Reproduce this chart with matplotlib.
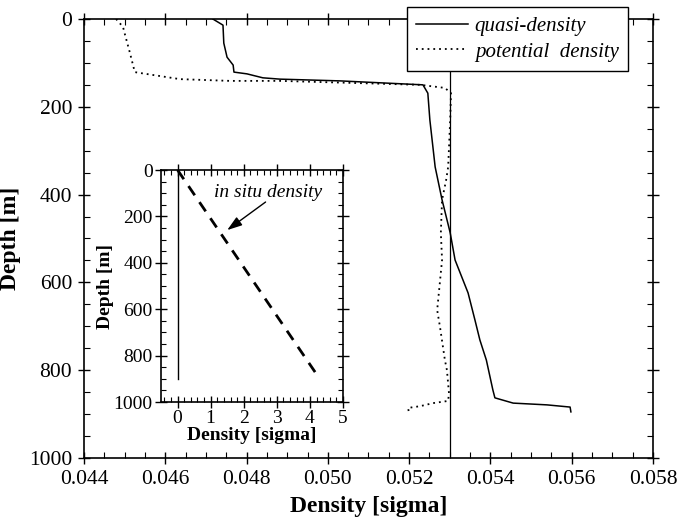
import matplotlib.pyplot as plt
from matplotlib.ticker import MultipleLocator, FormatStrFormatter

plt.rcParams['font.family'] = ['Liberation Serif', 'DejaVu Serif']

# quasi-density profile (solid)
quasi_depth = [0, 14, 55, 87, 105, 121, 125, 134, 137, 141, 150, 169, 230,
               337, 412, 487, 549, 624, 686, 731, 777, 845, 863, 875, 879,
               884, 895]
quasi_rho = [0.04717, 0.04742, 0.04744, 0.04752, 0.04767, 0.04769, 0.04801,
             0.04840, 0.04882, 0.05030, 0.05234, 0.05246, 0.05251, 0.05264,
             0.05281, 0.05301, 0.05313, 0.05345, 0.05362, 0.05374, 0.05390,
             0.05406, 0.05411, 0.05456, 0.05539, 0.05596, 0.05598]

# potential density profile (dotted)
pot_depth = [0, 18, 36, 77, 121, 123, 137, 141, 141, 150, 157, 169, 230,
             337, 367, 412, 487, 549, 663, 702, 777, 800, 852, 870, 875,
             882, 886, 897]
pot_rho = [0.04479, 0.04496, 0.04501, 0.04513, 0.04525, 0.04538, 0.04636,
           0.04759, 0.04882, 0.05227, 0.05288, 0.05303, 0.05301, 0.05296,
           0.05291, 0.05281, 0.05278, 0.05281, 0.05269, 0.05276, 0.05288,
           0.05293, 0.05298, 0.05296, 0.05259, 0.05227, 0.05197, 0.05200]

# reference vertical line
ref_rho = [0.0530, 0.0530]
ref_depth = [0, 1000]

# inset: in situ density vs quasi-density
inset_quasi_rho = [0, 0]
inset_quasi_depth = [0, 900]
insitu_rho = [0, 4.2]
insitu_depth = [0, 880]

fig = plt.figure(figsize=(6.8, 5.26), dpi=100)
ax = fig.add_axes([0.1235, 0.1293, 0.8368, 0.8346])

ax.plot(quasi_rho, quasi_depth, color='black', lw=1.1, label='quasi-density')
ax.plot(pot_rho, pot_depth, color='black', lw=1.3, dashes=(1, 2.2),
        label='potential  density')
ax.plot(ref_rho, ref_depth, color='black', lw=0.9)

ax.set_xlim(0.044, 0.058)
ax.set_ylim(1000, 0)
ax.xaxis.set_major_locator(MultipleLocator(0.002))
ax.xaxis.set_minor_locator(MultipleLocator(0.0005))
ax.xaxis.set_major_formatter(FormatStrFormatter('%.3f'))
ax.yaxis.set_major_locator(MultipleLocator(200))
ax.yaxis.set_minor_locator(MultipleLocator(50))
ax.tick_params(which='major', direction='inout', length=9, width=1,
               top=True, right=True, labelsize=15.5, pad=4)
ax.tick_params(which='minor', direction='in', length=4, width=0.8,
               top=True, right=True)
for s in ax.spines.values():
    s.set_linewidth(1.2)
ax.set_xlabel('Density [sigma]', fontsize=17, fontweight='bold', labelpad=5)
ax.set_ylabel('Depth [m]', fontsize=17, fontweight='bold', labelpad=6)

leg = ax.legend(loc='upper right', bbox_to_anchor=(0.9235, 0.9867),
                bbox_transform=fig.transFigure, fancybox=False,
                framealpha=1, edgecolor='black', handlelength=2.5,
                prop={'style': 'italic', 'size': 15}, borderpad=0.45,
                labelspacing=0.3, handletextpad=0.3, borderaxespad=0)
leg.get_frame().set_linewidth(1.0)
leg.set_zorder(5)

# inset
axi = fig.add_axes([0.2368, 0.2357, 0.2676, 0.4411])
axi.plot(inset_quasi_rho, inset_quasi_depth, color='black', lw=1.0)
axi.plot(insitu_rho, insitu_depth, color='black', lw=2.0, dashes=(4, 3))
axi.set_xlim(-0.5, 5)
axi.set_ylim(1000, 0)
axi.xaxis.set_major_locator(MultipleLocator(1))
axi.xaxis.set_minor_locator(MultipleLocator(0.2))
axi.yaxis.set_major_locator(MultipleLocator(200))
axi.yaxis.set_minor_locator(MultipleLocator(50))
axi.tick_params(which='major', direction='inout', length=8, width=1,
                top=True, right=True, labelsize=14, pad=2)
axi.tick_params(which='minor', direction='in', length=3.5, width=0.8,
                top=True, right=True)
for s in axi.spines.values():
    s.set_linewidth(1.2)
axi.set_xlabel('Density [sigma]', fontsize=14, fontweight='bold', labelpad=0)
axi.set_ylabel('Depth [m]', fontsize=14, fontweight='bold', labelpad=0)

axi.text(2.73, 95, 'in situ density', style='italic', fontsize=14,
         ha='center', va='center')
axi.annotate('', xy=(1.5, 259), xytext=(2.66, 138),
             arrowprops=dict(arrowstyle='-|>,head_length=0.9,head_width=0.3',
                             color='black', lw=1.0, shrinkA=0, shrinkB=0))

fig.savefig('out.png', dpi=100)
